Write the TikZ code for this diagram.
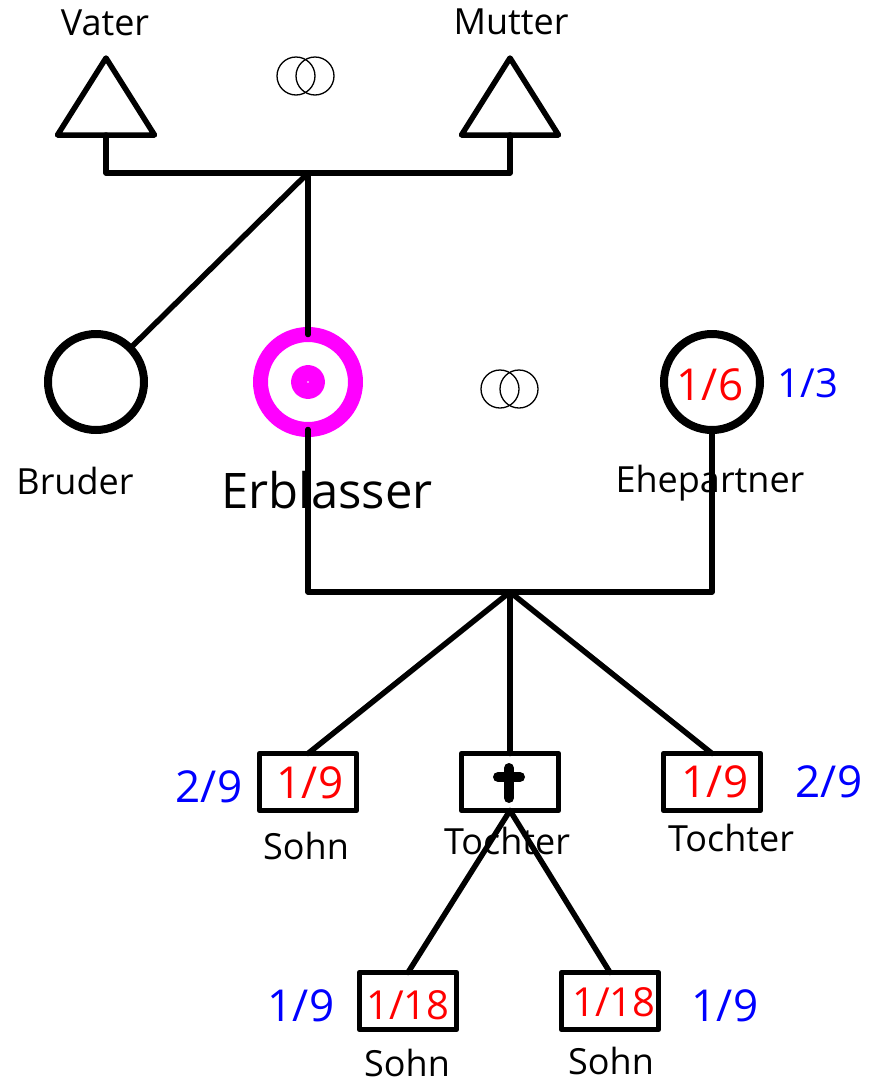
\documentclass[tikz,border=0pt]{standalone}
\usepackage{fontspec}
\setmainfont{Open Sans}
\usetikzlibrary{shapes.geometric}
\definecolor{pink}{RGB}{255,0,255}
\tikzset{
	person/.style={circle, draw, line width=8pt, minimum size=96pt, inner sep=0pt, outer sep=0pt},
	parent/.style={isosceles triangle, isosceles triangle stretches, shape border rotate=90, draw, line width=5.5pt, line join=round, minimum width=97pt, minimum height=77pt, inner sep=0pt, outer sep=0pt, anchor=apex},
	child/.style={rectangle, draw, line width=5.5pt, minimum width=97pt, minimum height=57pt, inner sep=0pt, outer sep=0pt},
	ring/.style={circle, draw, line width=1.3pt, minimum size=38pt, inner sep=0pt, outer sep=0pt},
	lab/.style={font=\fontsize{36}{40}\selectfont, text=black, inner sep=0pt},
	red share/.style={font=\fontsize{44}{48}\selectfont, text=red, inner sep=0pt},
	blue share/.style={font=\fontsize{44}{48}\selectfont, text=blue, inner sep=0pt}
}
\begin{document}
\begin{tikzpicture}[x=1pt, y=-1pt, line cap=round, line join=round, line width=5.5pt]
	\useasboundingbox (0,0) rectangle (872,1082);
	\path
	(308,173) coordinate (top)
	(510,592) coordinate (mid)
	;
	% rings
	\foreach \n/\x/\y in {a/296/76,b/315/76,c/500/389,d/519/389}
	\node[ring] (ring\n) at (\x,\y) {};
	% persons
	\node[parent] (vater) at (106,58) {};
	\node[parent] (mutter) at (510,58) {};
	\node[person] (bruder) at (96,382) {};
	\node[person] (ehe) at (712,382) {};
	\node[circle, draw=pink, line width=15pt, minimum size=95pt, inner sep=0pt, outer sep=0pt] (erb) at (308,382) {};
	\node[circle, draw=pink, line width=16pt, minimum size=18pt, inner sep=0pt, outer sep=0pt] (erbdot) at (308,382) {};
	\node[child] (sohnA) at (308,782) {};
	\node[child] (tochterA) at (510,782) {};
	\node[child] (tochterB) at (712,782) {};
	\node[child] (sohnB) at (408,1001) {};
	\node[child] (sohnC) at (610,1001) {};
	% texts
	\foreach \t/\x/\y [count=\i] in {Vater/105/23,Mutter/511/22,Bruder/75/481,Ehepartner/710/483,Sohn/306/846,Tochter/507/841,Tochter/731/838,Sohn/407/1063,Sohn/611/1061}
	\node[lab] (lab\i) at (\x,\y) {\t};
	\node[font=\fontsize{49}{54}\selectfont, text=black, inner sep=0pt] (erblab) at (327,490) {Erblasser};
	\foreach \t/\x/\y [count=\i] in {{1/6}/710/385,{1/9}/310/783,{1/9}/715/782}
	\node[red share] (rot\i) at (\x,\y) {\t};
	\foreach \t/\x/\y [count=\i] in {{1/18}/408/1005,{1/18}/614/1002}
	\node[red share, font=\fontsize{40}{44}\selectfont] (rotb\i) at (\x,\y) {\t};
	\node[blue share, font=\fontsize{40}{44}\selectfont] (blau) at (808,383) {1/3};
	\foreach \t/\x/\y [count=\i] in {{2/9}/209/787,{2/9}/829/782,{1/9}/301/1006,{1/9}/725/1006}
	\node[blue share] (blau\i) at (\x,\y) {\t};
	% lines
	\draw (vater.lower side) |- (top) -| (mutter.lower side);
	\draw (top) -- (bruder);
	\draw (top) -- (erb.north);
	\draw (erb.south) |- (mid) -| (ehe.south);
	\draw (mid) -- (sohnA.north);
	\draw (mid) -- (tochterA.north);
	\draw (mid) -- (tochterB.north);
	\draw (tochterA.south) -- (sohnB.north);
	\draw (tochterA.south) -- (sohnC.north);
	% cross
	\draw[line width=10pt] (509,768) -- (509,798) (498,777) -- (520,777);
\end{tikzpicture}
\end{document}
